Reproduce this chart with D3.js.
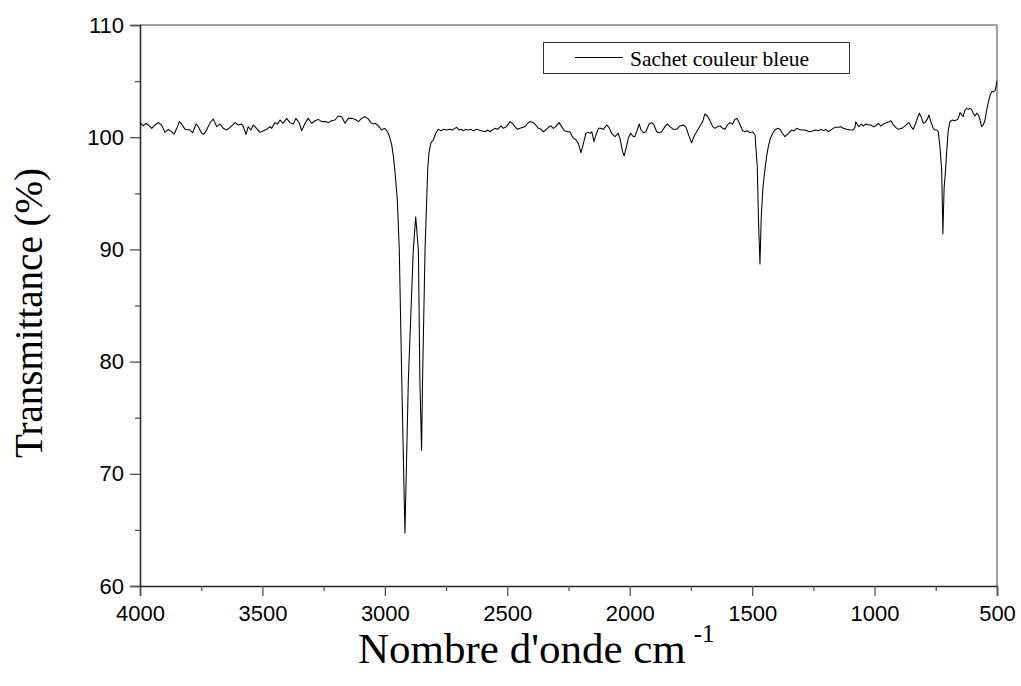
<!DOCTYPE html>
<html>
<head>
<meta charset="utf-8">
<script src="https://cdn.jsdelivr.net/npm/d3@7"></script>
<style>
  html, body { margin: 0; padding: 0; background: #fff; }
  svg { display: block; }
</style>
</head>
<body>
<svg id="chart" width="1021" height="686"></svg>
<script>
// ---- data (wavenumber cm-1, transmittance %) ----
const seriesName = "Sachet couleur bleue";
const xTicks = [4000, 3500, 3000, 2500, 2000, 1500, 1000, 500];
const yTicks = [60, 70, 80, 90, 100, 110];
const xMinorTicks = [3750, 3250, 2750, 2250, 1750, 1250, 750];
const yMinorTicks = [65, 75, 85, 95, 105];

const region4000to3100 = [
  [4000,101.30],[3986,101.00],[3976,101.24],[3966,101.09],[3952,100.79],[3939,101.09],[3925,101.30],
  [3912,101.09],[3898,100.43],[3884,100.70],[3871,100.49],[3861,100.26],[3850,100.79],[3839,101.39],
  [3830,101.18],[3816,100.70],[3796,100.64],[3785,100.40],[3771,101.18],[3762,100.94],[3748,100.35],
  [3739,100.26],[3728,100.64],[3714,101.30],[3701,101.62],[3687,100.94],[3673,101.18],[3660,100.79],
  [3646,100.64],[3632,100.88],[3612,101.30],[3598,101.09],[3585,101.18],[3578,100.94],[3567,100.26],
  [3558,100.94],[3547,100.64],[3537,101.09],[3524,100.79],[3510,100.43],[3496,100.58],[3483,100.70],
  [3469,100.94],[3462,100.79],[3449,101.30],[3438,101.18],[3428,101.53],[3415,101.24],[3401,101.68],
  [3387,101.30],[3374,101.18],[3363,101.68],[3349,101.24],[3340,100.58],[3326,101.24],[3313,101.68],
  [3299,101.24],[3285,101.47],[3272,101.59],[3258,101.39],[3244,101.39],[3231,101.30],[3217,101.47],
  [3204,101.53],[3190,101.89],[3176,101.83],[3163,101.24],[3149,101.68],[3136,101.68],[3122,101.60]
];
const region3100to2250 = [
  [3108,101.39],[3095,101.68],[3084,101.83],[3070,101.68],[3057,101.30],[3047,101.18],[3038,101.24],
  [3024,100.94],[3013,100.64],[3002,100.79],[2993,100.60],[2986,100.35],[2979,99.90],[2972,99.31],
  [2965,98.27],[2959,97.00],[2949,94.40],[2941,89.90],[2931,78.40],[2918,64.70],[2904,78.40],
  [2884,89.90],[2874,92.90],[2863,89.90],[2857,78.40],[2850,72.10],[2846,78.40],[2836,89.90],
  [2825,97.10],[2820,98.60],[2812,99.50],[2802,99.75],[2792,100.35],[2782,100.70],[2771,100.58],
  [2761,100.70],[2748,100.64],[2734,100.70],[2724,100.64],[2714,100.79],[2707,100.88],[2697,100.64],
  [2686,100.70],[2680,100.58],[2670,100.70],[2659,100.64],[2648,100.70],[2639,100.58],[2625,100.70],
  [2616,100.64],[2605,100.58],[2591,100.49],[2580,100.64],[2571,100.49],[2561,100.64],[2550,100.79],
  [2539,100.70],[2526,101.00],[2516,100.79],[2503,100.94],[2489,101.39],[2479,101.24],[2469,100.94],
  [2458,100.70],[2448,100.79],[2435,100.88],[2425,101.00],[2417,101.24],[2407,101.39],[2394,101.30],
  [2384,101.09],[2373,100.79],[2362,100.70],[2353,100.49],[2343,100.64],[2332,100.88],[2322,101.00],
  [2312,100.79],[2302,100.94],[2289,101.30],[2278,100.94],[2267,100.58],[2253,100.49]
];
const region2250to1370 = [
  [2244,100.49],[2233,99.99],[2219,99.75],[2210,99.45],[2199,98.62],[2189,99.45],[2179,100.35],
  [2169,100.43],[2160,100.35],[2155,100.49],[2146,99.60],[2138,100.20],[2128,100.79],[2119,100.79],
  [2108,100.70],[2094,101.09],[2085,100.88],[2074,100.35],[2060,100.05],[2047,100.35],[2040,99.90],
  [2029,98.71],[2023,98.33],[2015,99.01],[2006,99.90],[1996,100.35],[1988,100.11],[1979,100.05],
  [1969,100.64],[1961,101.18],[1955,100.70],[1944,100.40],[1934,100.49],[1921,101.18],[1910,101.30],
  [1901,101.09],[1890,100.49],[1879,100.40],[1870,100.49],[1856,100.94],[1846,101.18],[1836,100.94],
  [1822,100.70],[1808,100.70],[1795,101.00],[1781,101.09],[1770,100.88],[1757,100.05],[1747,99.51],
  [1738,100.05],[1727,100.49],[1713,101.00],[1702,101.39],[1693,102.07],[1683,101.89],[1672,101.47],
  [1661,100.94],[1652,100.79],[1642,100.94],[1631,101.00],[1620,100.79],[1611,100.70],[1601,101.09],
  [1591,101.30],[1580,101.18],[1570,101.59],[1563,101.68],[1557,101.47],[1547,101.00],[1539,100.58],
  [1529,100.49],[1520,100.58],[1509,100.40],[1498,100.49],[1488,100.20],[1484,98.86],[1479,97.37],
  [1474,92.50],[1468,88.70],[1463,92.80],[1456,95.50],[1448,97.08],[1441,98.27],[1434,99.16],
  [1427,99.81],[1416,100.35],[1407,100.64],[1397,100.79],[1386,100.70],[1377,100.35]
];
const region1370to500 = [
  [1366,100.05],[1352,100.35],[1339,100.64],[1328,100.58],[1318,100.79],[1309,100.70],[1298,100.64],
  [1287,100.64],[1277,100.58],[1264,100.49],[1250,100.58],[1241,100.64],[1230,100.58],[1219,100.70],
  [1209,100.58],[1200,100.70],[1189,100.49],[1175,100.70],[1162,100.88],[1148,100.88],[1137,100.94],
  [1128,100.79],[1114,100.70],[1100,100.64],[1087,100.64],[1080,100.88],[1077,101.38],[1069,101.09],
  [1064,100.94],[1055,101.18],[1046,100.99],[1036,101.18],[1026,101.09],[1015,101.09],[1005,100.94],
  [996,100.99],[985,101.24],[974,100.99],[964,101.18],[951,101.30],[941,101.38],[933,101.47],
  [923,101.09],[914,100.88],[903,100.70],[889,100.79],[876,100.99],[865,101.24],[859,101.30],
  [851,100.94],[842,100.70],[832,101.24],[824,101.77],[817,102.13],[810,101.83],[801,101.24],
  [794,101.30],[783,101.68],[778,101.98],[770,101.38],[760,100.79],[753,100.64],[746,100.64],
  [740,100.49],[733,99.16],[726,97.08],[721,91.40],[716,95.50],[710,97.08],[706,98.56],[699,100.64],
  [692,101.38],[682,101.53],[672,101.47],[661,101.59],[655,101.89],[651,102.19],[644,101.98],
  [638,101.83],[631,102.42],[624,102.57],[617,102.48],[610,102.57],[604,102.48],[597,102.13],
  [590,101.89],[583,102.13],[576,101.98],[569,101.53],[563,100.94],[556,101.09],[549,101.53],
  [542,102.42],[535,103.17],[529,103.67],[522,104.06],[515,104.06],[508,104.15],[504,104.50],
  [501,104.95],[500,105.00]
];
const spectrum = [].concat(region4000to3100, region3100to2250, region2250to1370, region1370to500);

// ---- layout ----
const svg = d3.select("#chart");
const mLeft = 140, mRight = 997, mTop = 25, mBottom = 586;
const x = d3.scaleLinear().domain([4000, 500]).range([mLeft, mRight]);
const y = d3.scaleLinear().domain([60, 110]).range([mBottom, mTop]);

const tickFont = "'Liberation Sans', Arial, sans-serif";
const serif = "'Liberation Serif', 'Times New Roman', serif";

// frame (top/right grey)
svg.append("line").attr("x1", mLeft).attr("x2", mRight).attr("y1", mTop).attr("y2", mTop)
  .attr("stroke", "#7f7f7f").attr("stroke-width", 1.5);
svg.append("line").attr("x1", mRight).attr("x2", mRight).attr("y1", mTop).attr("y2", mBottom)
  .attr("stroke", "#7f7f7f").attr("stroke-width", 1.5);

// x axis
svg.append("g").attr("transform", `translate(0,${mBottom})`)
  .call(d3.axisBottom(x).tickValues(xTicks).tickSize(10).tickPadding(9).tickFormat(d3.format("d")));
svg.append("g").attr("transform", `translate(0,${mBottom})`)
  .call(d3.axisBottom(x).tickValues(xMinorTicks).tickSize(5).tickFormat(""))
  .select(".domain").remove();

// y axis
svg.append("g").attr("transform", `translate(${mLeft},0)`)
  .call(d3.axisLeft(y).tickValues(yTicks).tickSize(10).tickPadding(6).tickFormat(d3.format("d")));
svg.append("g").attr("transform", `translate(${mLeft},0)`)
  .call(d3.axisLeft(y).tickValues(yMinorTicks).tickSize(5).tickFormat(""))
  .select(".domain").remove();

svg.selectAll(".domain").attr("stroke", "#222").attr("stroke-width", 1.5);
svg.selectAll(".tick line").attr("stroke", "#555").attr("stroke-width", 1.3);
svg.selectAll(".tick text").attr("font-family", tickFont).attr("font-size", 22).attr("fill", "#000");

// spectrum line
const line = d3.line().x(d => x(d[0])).y(d => y(d[1]));
svg.append("path").datum(spectrum)
  .attr("d", line).attr("fill", "none").attr("stroke", "#000").attr("stroke-width", 1.05)
  .attr("stroke-linejoin", "round");

// legend
const lg = svg.append("g");
lg.append("rect").attr("x", 543.5).attr("y", 42.5).attr("width", 306).attr("height", 31)
  .attr("fill", "#fff").attr("stroke", "#333").attr("stroke-width", 1);
lg.append("line").attr("x1", 575).attr("x2", 623).attr("y1", 57.5).attr("y2", 57.5)
  .attr("stroke", "#000").attr("stroke-width", 1.1);
lg.append("text").attr("x", 630).attr("y", 66).attr("font-family", serif).attr("font-size", 21.5)
  .text(seriesName);

// axis titles
svg.append("text")
  .attr("transform", `translate(42,313) rotate(-90)`)
  .attr("text-anchor", "middle").attr("font-family", serif).attr("font-size", 39)
  .text("Transmittance (%)");

const xt = svg.append("text").attr("x", 358).attr("y", 663)
  .attr("text-anchor", "start").attr("font-family", serif).attr("font-size", 43);
xt.append("tspan").text("Nombre d'onde cm");
xt.append("tspan").attr("dx", 8).attr("dy", -21).attr("font-size", 25).text("-1");
</script>
</body>
</html>
